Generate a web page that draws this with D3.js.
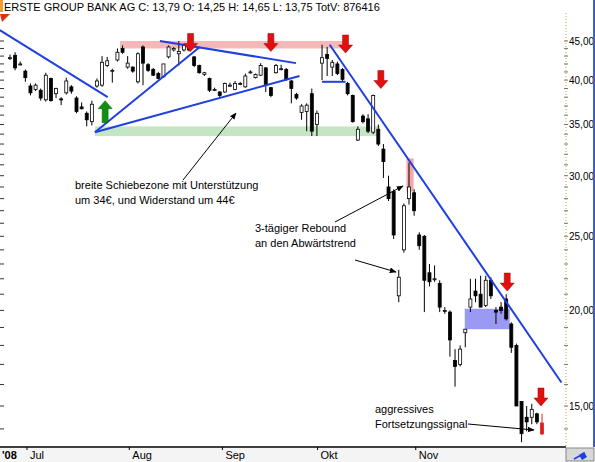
<!DOCTYPE html>
<html>
<head>
<meta charset="utf-8">
<script src="https://cdn.jsdelivr.net/npm/d3@7"></script>
<style>
  body { margin: 0; background: #fff; }
  svg { font-family: "Liberation Sans", Arial, sans-serif; display: block; }
</style>
</head>
<body>
<div id="chart"></div>
<script>
// OHLC, one row per trading day (open, high, low, close)
const candles = [
  [42.8,43.2,42.5,42.8],[43.1,43.5,41.2,41.5],[42.0,42.3,41.8,42.0],[41.1,41.3,39.8,40.3],
  [39.3,39.6,38.2,38.5],[38.9,39.6,38.7,39.4],[38.8,39.0,37.6,37.9],[37.7,40.9,37.5,40.6],
  [40.2,40.3,37.5,37.6],[38.4,39.1,37.9,39.0],[37.8,38.0,37.1,37.7],[38.5,40.3,38.3,39.9],
  [39.2,39.4,38.4,38.7],[37.9,38.1,36.2,36.4],[36.9,37.4,36.6,36.7],[36.2,36.4,34.8,35.5],
  [35.3,37.6,34.9,37.2],[39.3,40.2,39.1,39.9],[39.4,43.0,39.2,42.2],[41.8,42.9,41.6,42.4],
  [41.2,41.4,39.7,41.2],[42.5,44.0,42.3,43.5],[44.0,44.4,43.3,43.5],[41.6,43.0,41.4,42.1],
  [41.6,41.7,40.9,41.1],[39.8,43.5,39.6,43.3],[44.2,44.4,39.4,42.1],[41.9,42.1,41.0,41.2],
  [41.3,41.5,40.5,40.6],[40.8,41.0,40.1,40.2],[40.4,42.0,40.3,42.0],[42.9,44.4,42.7,44.2],
  [43.8,44.2,43.6,44.0],[43.3,45.0,41.8,43.6],[43.8,44.6,43.6,44.4],[44.3,44.5,43.6,43.8],
  [42.9,43.0,41.6,41.8],[41.8,41.9,40.8,40.9],[40.7,41.0,40.5,40.9],[40.2,40.3,38.6,38.8],
  [38.9,39.1,38.7,38.9],[38.6,38.7,38.0,38.2],[38.6,39.7,38.5,39.6],[39.4,39.7,39.2,39.4],
  [38.9,39.9,38.8,39.6],[39.6,39.8,39.4,39.6],[39.2,40.8,39.1,40.5],[41.0,41.2,40.8,41.0],
  [40.3,40.8,40.2,40.7],[40.6,42.1,40.5,41.8],[41.5,41.6,38.6,39.4],[39.1,39.2,38.0,38.2],
  [40.9,42.0,40.8,41.8],[41.4,41.9,41.2,41.4],[41.3,41.5,39.9,40.1],[39.9,40.0,37.3,39.0],
  [38.3,38.5,37.7,37.9],[36.3,37.2,35.5,37.0],[36.4,37.3,34.3,37.1],[38.4,39.0,33.8,34.3],
  [35.0,36.5,33.8,36.2],[42.1,44.5,40.0,42.8],[43.2,44.2,40.5,42.7],[41.6,42.5,40.5,42.2],
  [42.0,42.3,40.6,40.8],[41.3,41.5,39.9,40.1],[39.6,39.8,38.2,38.4],[38.2,38.3,35.2,35.3],
  [33.4,34.8,33.3,34.5],[35.9,36.1,35.1,35.3],[35.6,36.1,34.1,34.3],[34.2,38.3,34.0,38.2],
  [34.5,35.0,32.8,33.0],[32.5,33.0,29.8,31.3],[29.0,30.0,27.8,28.0],[28.6,28.8,24.8,25.1],
  [20.9,22.6,20.5,22.1],[24.0,27.6,23.8,27.4],[28.0,31.2,27.5,29.0],[28.5,28.8,26.6,27.0],
  [25.1,25.3,24.0,24.3],[25.0,25.1,19.9,21.9],[22.4,23.0,21.5,21.8],[22.0,22.9,21.8,22.0],
  [21.7,21.9,19.9,20.2],[20.0,20.2,19.8,20.0],[19.9,20.0,17.4,18.3],[17.2,17.8,15.9,16.9],
  [17.0,18.0,16.9,17.8],[18.7,18.9,17.9,18.9],[20.2,22.0,19.9,20.7],[21.2,22.0,20.5,20.9],
  [21.0,22.2,20.2,20.2],[20.3,22.2,20.2,21.9],[21.9,22.1,20.7,20.9],[20.0,20.2,19.2,19.9],
  [20.2,20.5,19.8,20.0],[20.7,21.0,19.4,19.5],[19.2,19.3,17.6,17.9],[18.0,18.1,15.0,15.0],
  [15.2,15.2,13.45,13.8],[14.5,15.0,13.9,14.3],[14.5,15.1,14.2,14.85],[14.65,14.7,14.2,14.3],
  [14.25,14.65,13.75,13.79]
];
const lastIsSignal = true;

const priceTicks = [15, 20, 25, 30, 35, 40, 45];
const months = [
  { label: "Jul", day: 4.3 },
  { label: "Aug", day: 24.3 },
  { label: "Sep", day: 42.5 },
  { label: "Okt", day: 61.1 },
  { label: "Nov", day: 80.3 }
];

// trendlines: [day1, price1, day2, price2]
const trendLines = [
  [-2, 46.5, 19.1, 38.0],
  [16.6, 34.2, 37.1, 44.2],
  [16.6, 34.2, 56.6, 40.5],
  [29.3, 45.0, 55.9, 42.1],
  [61, 39.8, 65.6, 39.8],
  [62.5, 44.5, 107.8, 16.1]
];
// zones: [day1, day2, priceTop, priceBottom, colour]
const zones = [
  [21.5, 65.4, 45.0, 44.0, "#f4b8b8"],
  [16.6, 72.3, 34.8, 33.8, "#c4e6c4"],
  [77.5, 78.9, 31.6, 28.6, "#f4a8a8"],
  [88.9, 97.7, 20.1, 18.9, "#9a9af4"]
];
const downArrows = [[35.3, 43.6], [51, 43.6], [65.6, 43.4], [72.5, 39.0], [97.2, 21.2], [103.8, 15.0]];
const upArrows = [[18.6, 37.6]];

const W = 595, H = 462;
const plot = { left: 0, right: 565, top: 13, bottom: 447 };

const x = d3.scaleLinear().domain([0, 104]).range([10, 542]);
const y = d3.scaleLog().domain([45, 15]).range([41, 406]);

const svg = d3.select("#chart").append("svg").attr("width", W).attr("height", H);

// header
svg.append("rect").attr("x", 0).attr("y", 0).attr("width", W).attr("height", H).attr("fill", "#fff");
svg.append("rect").attr("x", 0).attr("y", 0).attr("width", 3).attr("height", 12).attr("fill", "#f0a030");
svg.append("text").attr("x", 4).attr("y", 11).attr("font-size", 11).attr("fill", "#000")
  .text("ERSTE GROUP BANK AG C: 13,79 O: 14,25 H: 14,65 L: 13,75 TotV: 876416");
svg.append("path").attr("d", "M0,14 L10,14 L2,22 Z").attr("fill", "#e03010");

// zones
svg.append("g").selectAll("rect").data(zones).join("rect")
  .attr("x", d => x(d[0])).attr("width", d => x(d[1]) - x(d[0]))
  .attr("y", d => y(d[2])).attr("height", d => y(d[3]) - y(d[2]))
  .attr("fill", d => d[4]);

// candles
const bw = 3;
const cg = svg.append("g");
candles.forEach((c, i) => {
  const [o, h, l, cl] = c;
  const isLast = lastIsSignal && i === candles.length - 1;
  const col = isLast ? "#e02020" : "#000";
  cg.append("line").attr("x1", x(i)).attr("x2", x(i)).attr("y1", y(h)).attr("y2", y(l))
    .attr("stroke", col).attr("stroke-width", 1);
  const top = y(Math.max(o, cl)), bot = y(Math.min(o, cl));
  cg.append("rect").attr("x", x(i) - bw / 2).attr("y", top)
    .attr("width", bw).attr("height", Math.max(1, bot - top))
    .attr("fill", isLast ? "#e02020" : (cl >= o ? "#fff" : "#000"))
    .attr("stroke", col).attr("stroke-width", 0.8);
});

// trendlines
svg.append("g").selectAll("line").data(trendLines).join("line")
  .attr("x1", d => x(d[0])).attr("y1", d => y(d[1]))
  .attr("x2", d => x(d[2])).attr("y2", d => y(d[3]))
  .attr("stroke", "#1f3fe0").attr("stroke-width", 2);

// arrows
const downPath = "M-3,-18 L3,-18 L3,-8 L7,-8 L0,0 L-7,-8 L-3,-8 Z";
svg.append("g").selectAll("path").data(downArrows).join("path")
  .attr("transform", d => `translate(${x(d[0])},${y(d[1])})`)
  .attr("d", downPath).attr("fill", "#e01010").attr("stroke", "#a00000").attr("stroke-width", 0.5);
svg.append("g").selectAll("path").data(upArrows).join("path")
  .attr("transform", d => `translate(${x(d[0])},${y(d[1])}) rotate(180)`)
  .attr("d", downPath.replace(/-18/g, "-22")).attr("fill", "#109010").attr("stroke", "#006000").attr("stroke-width", 0.5);

// text annotations with pointer lines
svg.append("defs").append("marker").attr("id", "ah").attr("viewBox", "0 0 10 10")
  .attr("refX", 9).attr("refY", 5).attr("markerWidth", 7).attr("markerHeight", 7).attr("orient", "auto")
  .append("path").attr("d", "M0,1 L10,5 L0,9 Z").attr("fill", "#000");

const notes = [
  { lines: ["breite Schiebezone mit Unterstützung", "um 34€, und Widerstand um 44€"], at: [75, 189] },
  { lines: ["3-tägiger Rebound", "an den Abwärtstrend"], at: [255, 232] },
  { lines: ["aggressives", "Fortsetzungssignal"], at: [375, 413] }
];
const pointers = [[183, 180, 236, 113], [335, 222, 403, 186], [355, 260, 396, 272], [468, 424, 534, 430]];
notes.forEach(n => {
  n.lines.forEach((t, k) => svg.append("text").attr("x", n.at[0]).attr("y", n.at[1] + k * 15)
    .attr("font-size", 11).attr("fill", "#000").text(t));
});
svg.append("g").selectAll("line").data(pointers).join("line")
  .attr("x1", d => d[0]).attr("y1", d => d[1]).attr("x2", d => d[2]).attr("y2", d => d[3])
  .attr("stroke", "#000").attr("stroke-width", 1).attr("marker-end", "url(#ah)");

// right price axis
svg.append("line").attr("x1", plot.right + 1).attr("x2", plot.right + 1)
  .attr("y1", plot.top).attr("y2", plot.bottom)
  .attr("stroke", "#c8a040").attr("stroke-dasharray", "1,2");
const minor = d3.range(13, 46, 1).filter(d => y(d) > plot.top && y(d) < plot.bottom);
svg.append("g").selectAll("line").data(minor).join("line")
  .attr("x1", plot.right - 1).attr("x2", plot.right + 3)
  .attr("y1", d => y(d)).attr("y2", d => y(d)).attr("stroke", "#555").attr("stroke-width", 0.8);
svg.append("g").selectAll("text").data(priceTicks).join("text")
  .attr("x", plot.right + 4).attr("y", d => y(d) + 4).attr("font-size", 10).attr("fill", "#000")
  .text(d => d3.format(".2f")(d).replace(".", ","));
// left minor ticks
svg.append("g").selectAll("line").data(minor).join("line")
  .attr("x1", 0).attr("x2", 4).attr("y1", d => y(d)).attr("y2", d => y(d)).attr("stroke", "#333");

// bottom axis
svg.append("line").attr("x1", 0).attr("x2", plot.right + 1).attr("y1", plot.bottom).attr("y2", plot.bottom)
  .attr("stroke", "#000").attr("stroke-width", 1.5);
svg.append("rect").attr("x", 0).attr("y", plot.bottom + 1).attr("width", plot.right + 1).attr("height", H - plot.bottom)
  .attr("fill", "#f4f4f4");
svg.append("text").attr("x", 2).attr("y", 459).attr("font-size", 11).attr("font-weight", "bold").text("'08");
svg.append("g").selectAll("text").data(months).join("text")
  .attr("x", d => x(d.day) - 2).attr("y", 459).attr("font-size", 11).text(d => d.label);
svg.append("g").selectAll("line").data(months).join("line")
  .attr("x1", d => x(d.day) - 5).attr("x2", d => x(d.day) - 5).attr("y1", plot.bottom).attr("y2", plot.bottom + 3)
  .attr("stroke", "#000");

// corner box and frame
svg.append("rect").attr("x", plot.right + 1).attr("y", plot.bottom + 1).attr("width", W - plot.right - 2).attr("height", H - plot.bottom - 2)
  .attr("fill", "#d8d8d8").attr("stroke", "#888");
svg.append("path").attr("d", `M${plot.right + 9},${H - 3} L${plot.right + 20},${plot.bottom + 6}`).attr("stroke", "#1f3fe0").attr("stroke-width", 1.5);
svg.append("path").attr("d", `M${plot.right + 14},${plot.bottom + 8} l5,-3 l3,5 l-5,3 Z`).attr("fill", "#1f3fe0");
svg.append("line").attr("x1", W - 1).attr("x2", W - 1).attr("y1", 0).attr("y2", plot.bottom).attr("stroke", "#4060c0").attr("stroke-width", 2);
</script>
</body>
</html>
